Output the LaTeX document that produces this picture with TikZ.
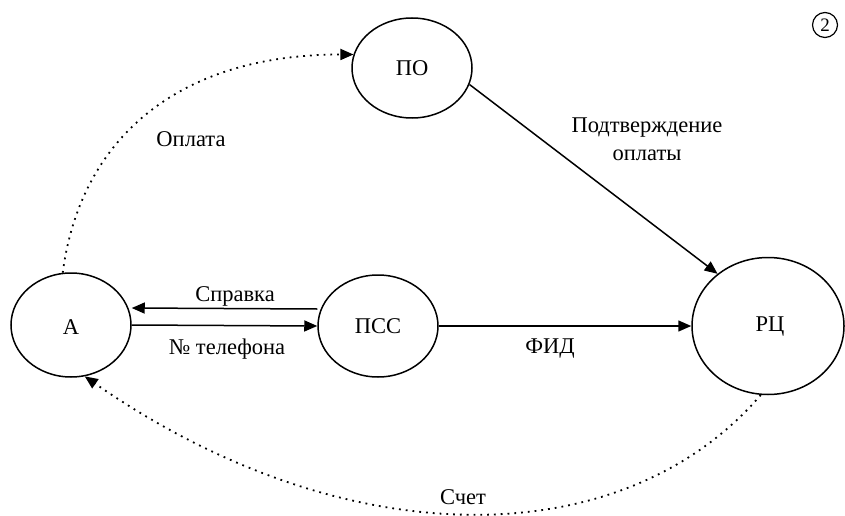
\documentclass[tikz,border=0pt]{standalone}
\usepackage{fontspec}
\setmainfont{Liberation Serif}
\usetikzlibrary{shapes.geometric,arrows.meta}
\begin{document}
\begin{tikzpicture}[x=1pt,y=-1pt,
  every node/.style={font=\fontsize{22.5}{28}\selectfont},
  state/.style={ellipse,draw,line width=1.5pt,inner sep=0pt},
  conn/.style={line width=1.5pt,-{Triangle[length=13pt,width=11pt]}},
  dotconn/.style={line width=1.8pt,dash pattern=on 1.8pt off 5pt,-{Triangle[length=13pt,width=11pt]}},
  lbl/.style={inner sep=0pt,align=center}]
\useasboundingbox (0,0) rectangle (845,516);
\node[state,minimum width=120pt,minimum height=104pt] (a) at (71,325) {};
\node[lbl] at (71,327) {А};
\node[state,minimum width=120pt,minimum height=102pt] (pss) at (378,326) {};
\node[lbl] at (378,326) {ПСС};
\node[state,minimum width=120pt,minimum height=100pt] (po) at (412,68) {};
\node[lbl] at (412,68) {ПО};
\node[state,minimum width=152pt,minimum height=137pt] (rc) at (768,326) {};
\node[lbl] at (770,327) {РЦ};
\node[circle,draw,line width=1.2pt,minimum size=25pt,inner sep=0pt,font=\fontsize{19}{22}\selectfont] (two) at (825,25) {2};

\draw[conn] ([yshift=17pt]pss.west) -- ([yshift=17pt]a.east);
\draw[conn] (a.east) -- (pss.west);
\draw[conn] (pss.east) -- (rc.west);
\draw[conn] (po.-16) -- (rc.134);
\draw[dotconn] (a.99) .. controls +(17,-130) and +(-180,0) .. (po.167);
\draw[dotconn] (rc.-96) .. controls +(-137,160) and +(262,182) .. (a.-75);

\node[lbl] (l1) at (235,296) {Справка};
\node[lbl] (l2) at (227,349) {№ телефона};
\node[lbl] (l3) at (550,349) {ФИД};
\node[lbl] (l4) at (191,139) {Оплата};
\node[lbl] (l5) at (647,139) {Подтверждение\\оплаты};
\node[lbl] (l6) at (463,497) {Счет};
\end{tikzpicture}
\end{document}
